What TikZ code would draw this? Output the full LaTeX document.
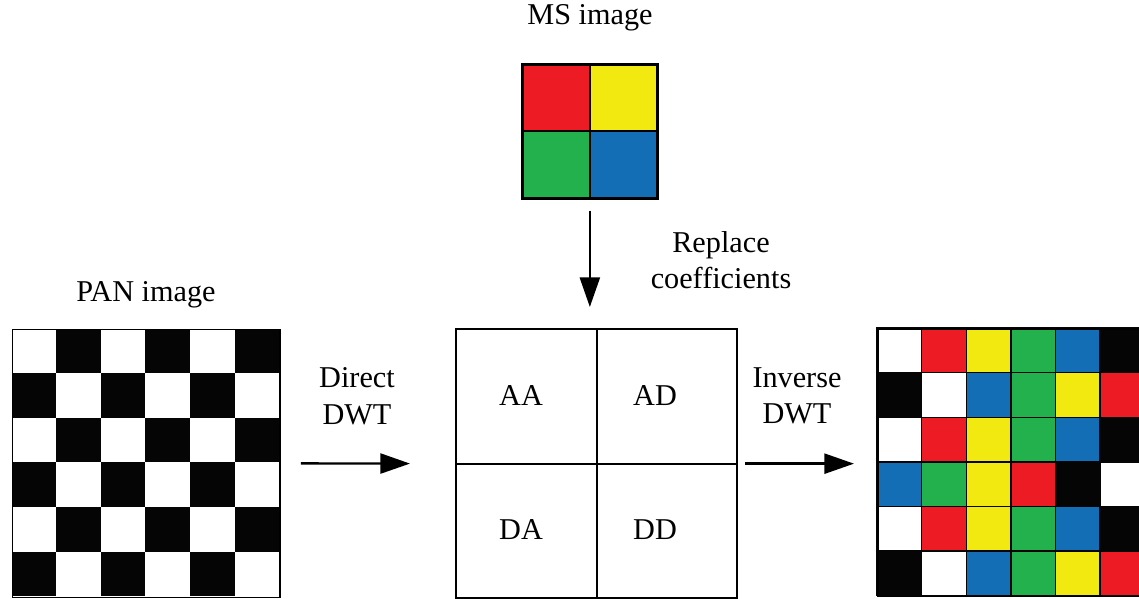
\documentclass[tikz,border=0pt]{standalone}
\usepackage{fontspec}
\setmainfont{Liberation Serif}
\usetikzlibrary{arrows.meta}

\definecolor{msred}{RGB}{237,28,36}
\definecolor{msyellow}{RGB}{242,233,16}
\definecolor{msgreen}{RGB}{34,177,76}
\definecolor{msblue}{RGB}{19,110,182}
\definecolor{panblack}{RGB}{5,5,5}

\begin{document}
\begin{tikzpicture}[x=0.025cm, y=-0.025cm,
    txt/.style = {font=\fontsize{21.5}{26}\selectfont, align=center, inner sep=0pt},
    frame/.style = {draw, line width=1.6pt, inner sep=0pt, anchor=north west},
    flow/.style = {-{Triangle[length=0.74cm, width=0.5cm]}, line width=1.7pt}]
    \clip (0,0) rectangle (1139,599);

    % PAN image
    \foreach \i in {0,...,5}
        \foreach \j in {0,...,5} {
            \pgfmathparse{int(mod(\i+\j,2))}
            \ifnum\pgfmathresult=1
                \fill[panblack] ({11.5+44.6*\i},{328.5+44.6*\j}) rectangle ++(44.6,44.6);
            \fi
        }
    \node[frame, line width=1.2pt, minimum width=6.69cm, minimum height=6.7cm] (pan) at (11.5,328.5) {};
    \node[txt] (panlbl) at (146,295) {PAN image};

    % MS image
    \fill[msred] (521,63) rectangle (588.5,130);
    \fill[msyellow] (588.5,63) rectangle (656,130);
    \fill[msgreen] (521,130) rectangle (588.5,197);
    \fill[msblue] (588.5,130) rectangle (656,197);
    \node[frame, line width=1.9pt, minimum width=3.375cm, minimum height=3.35cm] (ms) at (521,63) {};
    \draw[line width=1.6pt] (ms.north) -- (ms.south);
    \draw[line width=1.6pt] (ms.west) -- (ms.east);
    \node[txt] (mslbl) at (590,18) {MS image};

    % wavelet planes
    \node[frame, minimum width=7.025cm, minimum height=6.725cm] (wt) at (455,328) {};
    \draw[line width=1.4pt] (wt.north) -- (wt.south);
    \draw[line width=1.4pt] (wt.west) -- (wt.east);
    \node[txt] (aa) at (521,396) {AA};
    \node[txt] (ad) at (655,396) {AD};
    \node[txt] (da) at (521,530) {DA};
    \node[txt] (dd) at (655,530) {DD};

    % fused image
    \foreach \row [count=\j from 0] in {
            {white,msred,msyellow,msgreen,msblue,panblack},
            {panblack,white,msblue,msgreen,msyellow,msred},
            {white,msred,msyellow,msgreen,msblue,panblack},
            {msblue,msgreen,msyellow,msred,panblack,white},
            {white,msred,msyellow,msgreen,msblue,panblack},
            {panblack,white,msblue,msgreen,msyellow,msred}}
        \foreach \c [count=\i from 0] in \row
            \filldraw[fill=\c, draw=panblack, line width=1pt]
                ({877+44.6*\i},{328+44.6*\j}) rectangle ++(44.6,44.6);
    \node[frame, line width=1.2pt, minimum width=6.69cm, minimum height=6.69cm] (fus) at (877,328) {};

    % arrows
    \draw[flow, shorten <=0.5cm, shorten >=1.125cm] (pan.east) -- (wt.west);
    \draw[flow, shorten <=0.175cm, shorten >=0.575cm] (wt.east) -- (wt.east -| fus.west);
    \draw[flow, shorten <=0.275cm, shorten >=0.525cm] (ms.south) -- (ms.south |- wt.north);
    \node[txt] (dwt) at (357,396) {Direct\\DWT};
    \node[txt] (idwt) at (797,396) {Inverse\\DWT};
    \node[txt] (repl) at (721,260) {Replace\\coefficients};
\end{tikzpicture}
\end{document}
